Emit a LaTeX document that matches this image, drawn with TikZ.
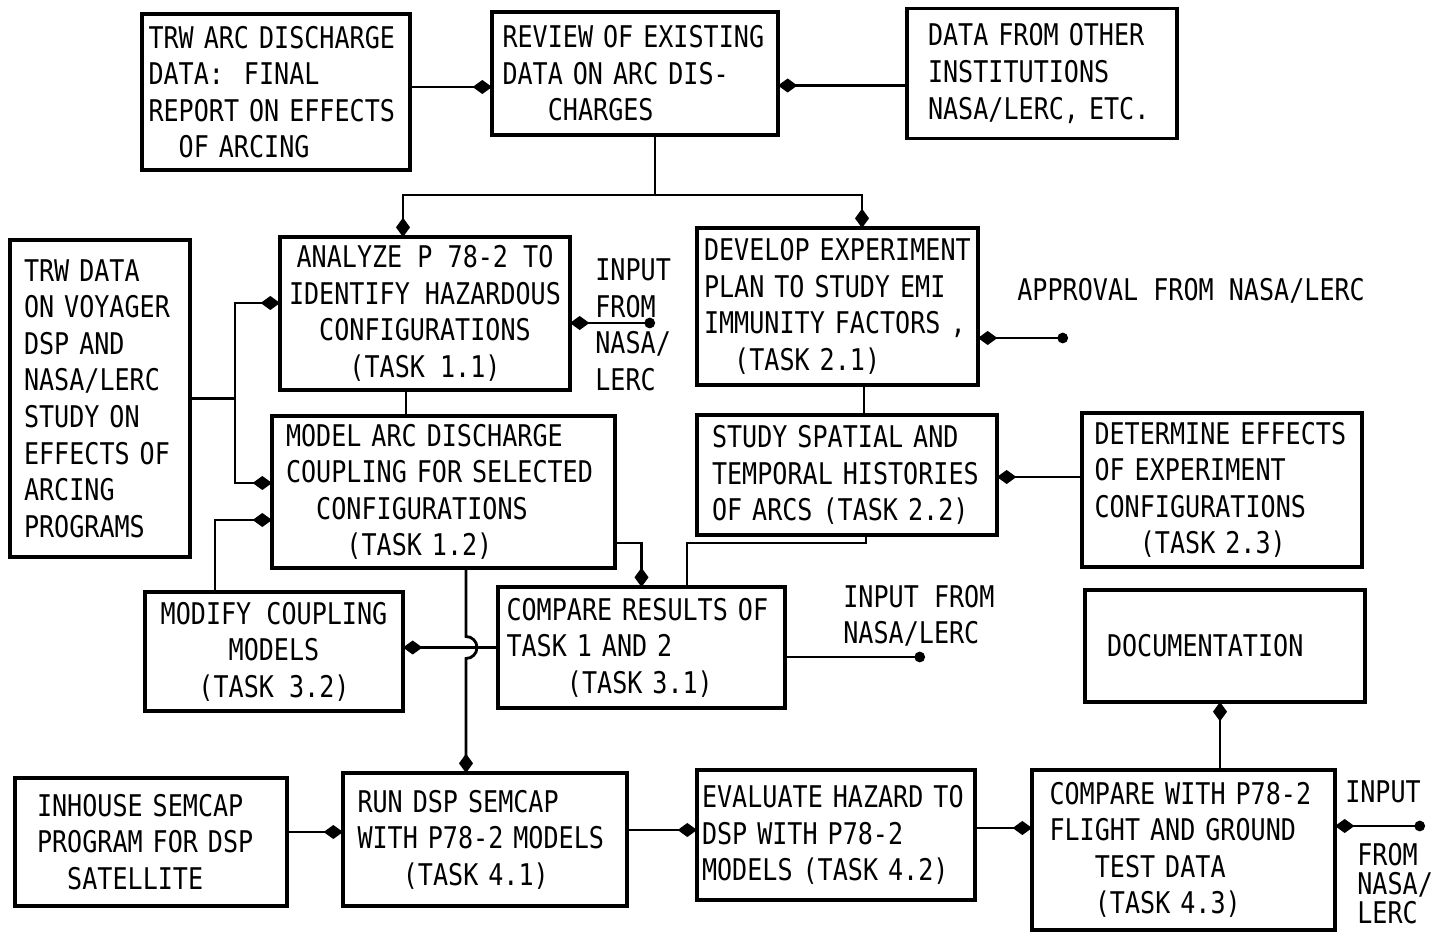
\documentclass[tikz,border=0pt]{standalone}
\usepackage{fontspec}
\setmainfont{DejaVu Sans Mono}[FakeStretch=0.84]
\usepackage{tikz}
\usetikzlibrary{positioning, calc, arrows.meta}

\begin{document}
\begin{tikzpicture}[
  font=\fontsize{17pt}{20.8pt}\selectfont,
  task/.style={draw, line width=2.2pt, inner sep=2pt, outer sep=0pt, align=left},
  link/.style={line width=1.6pt},
  feed/.style={link, -{Diamond[length=11pt, width=8pt]}},
  ext/.style={link, {Circle[length=6pt]}-{Diamond[length=11pt, width=8pt]}},
  note/.style={inner sep=0pt, align=left}
]

\useasboundingbox (0,0) rectangle (28.70,-18.68);

\node[task, minimum width=5.72cm, minimum height=2.46cm, text width=5.30cm] (review) at (12.70,-1.47) {REVIEW OF EXISTING\\DATA ON ARC DIS-\\\phantom{XXX}CHARGES};

\node[task, minimum width=5.36cm, minimum height=3.12cm, text width=5.10cm, left=1.64cm of review, yshift=-0.37cm] (trw) {TRW ARC DISCHARGE\\DATA:\ \ FINAL\\REPORT ON EFFECTS\\\phantom{XX}OF ARCING};

\node[task, minimum width=5.40cm, minimum height=2.60cm, text width=4.56cm, right=2.58cm of review] (other) {DATA FROM OTHER\\INSTITUTIONS\\NASA/LERC, ETC.};

\node[task, minimum width=3.60cm, minimum height=6.34cm, text width=3.04cm] (voyager) at (2.00,-7.97) {TRW DATA\\ON VOYAGER\\DSP AND\\NASA/LERC\\STUDY ON\\EFFECTS OF\\ARCING\\PROGRAMS};

\node[task, align=center, minimum width=5.80cm, minimum height=3.06cm] (analyze) at (8.50,-6.27) {ANALYZE P 78-2 TO\\IDENTIFY HAZARDOUS\\CONFIGURATIONS\\(TASK 1.1)};

\node[task, minimum width=5.62cm, minimum height=3.14cm, text width=5.34cm] (develop) at (16.75,-6.13) {DEVELOP EXPERIMENT\\PLAN TO STUDY EMI\\IMMUNITY FACTORS ,\\\phantom{XX}(TASK 2.1)};

\node[task, minimum width=6.86cm, minimum height=3.04cm, text width=6.30cm, below=0.52cm of analyze, xshift=0.37cm] (model) {MODEL ARC DISCHARGE\\COUPLING FOR SELECTED\\\phantom{XX}CONFIGURATIONS\\\phantom{XXXX}(TASK 1.2)};

\node[task, minimum width=6.00cm, minimum height=2.40cm, text width=5.40cm, below=0.60cm of develop, xshift=0.19cm] (study) {STUDY SPATIAL AND\\TEMPORAL HISTORIES\\OF ARCS (TASK 2.2)};

\node[task, minimum width=5.60cm, minimum height=3.08cm, text width=5.10cm, right=1.70cm of study, yshift=-0.30cm] (effects) {DETERMINE EFFECTS\\OF EXPERIMENT\\CONFIGURATIONS\\\phantom{XXX}(TASK 2.3)};

\node[task, minimum width=5.74cm, minimum height=2.42cm, text width=5.40cm] (results) at (12.83,-12.95) {COMPARE RESULTS OF\\TASK 1 AND 2\\\phantom{XXXX}(TASK 3.1)};

\node[task, align=center, minimum width=5.16cm, minimum height=2.38cm, left=1.90cm of results, yshift=-0.08cm] (modify) {MODIFY COUPLING\\MODELS\\(TASK 3.2)};

\node[task, minimum width=5.60cm, minimum height=2.24cm, text width=4.72cm, below=0.46cm of effects, xshift=0.06cm] (docs) {DOCUMENTATION};

\node[task, minimum width=5.68cm, minimum height=2.66cm, text width=5.10cm] (run) at (9.70,-16.79) {RUN DSP SEMCAP\\WITH P78-2 MODELS\\\phantom{XXX}(TASK 4.1)};

\node[task, minimum width=5.44cm, minimum height=2.56cm, text width=4.56cm, left=1.12cm of run, yshift=-0.05cm] (inhouse) {INHOUSE SEMCAP\\PROGRAM FOR DSP\\\phantom{XX}SATELLITE};

\node[task, minimum width=5.56cm, minimum height=2.60cm, text width=5.36cm, right=1.40cm of run, yshift=0.09cm] (hazard) {EVALUATE HAZARD TO\\DSP WITH P78-2\\MODELS (TASK 4.2)};

\node[task, minimum width=6.06cm, minimum height=3.20cm, text width=5.36cm, right=1.14cm of hazard, yshift=-0.30cm] (flight) {COMPARE WITH P78-2\\FLIGHT AND GROUND\\\phantom{XXX}TEST DATA\\\phantom{XXX}(TASK 4.3)};

\node[note, anchor=west] (inputA) at (11.90,-6.50) {INPUT\\FROM\\NASA/\\LERC};
\node[note, anchor=west] (approval) at (20.34,-5.82) {APPROVAL FROM NASA/LERC};
\node[note, anchor=west] (inputB) at (16.86,-12.32) {INPUT FROM\\NASA/LERC};
\node[note] (inputC) at (27.66,-15.84) {INPUT};
\node[note, anchor=west, font=\fontsize{17pt}{16.5pt}\selectfont] (inputD) at (27.14,-17.68) {FROM\\NASA/\\LERC};

\coordinate (srcA) at (13.10,-6.46);
\coordinate (srcB) at (21.36,-6.76);
\coordinate (srcC) at (18.50,-13.14);
\coordinate (srcD) at (28.50,-16.52);

\draw[feed] ([yshift=0.10cm]trw.east) -- ([yshift=0.10cm]trw.east -| review.west);
\draw[feed] ([yshift=-0.24cm]other.west) -- ([yshift=-0.24cm]other.west -| review.east);

\coordinate (fork) at ($(review.south)+(0.40,-1.20)$);
\draw[link] ([xshift=0.40cm]review.south) -- (fork);
\draw[feed] (fork) -| ([xshift=-0.44cm]analyze.north);
\draw[feed] (fork) -| ([xshift=0.49cm]develop.north);

\coordinate (vbus) at ($(voyager.east)+(0.90,0)$);
\draw[link] (voyager.east) -- (vbus);
\draw[feed] (vbus) |- ([yshift=0.21cm]analyze.west);
\draw[feed] (vbus) |- ([yshift=0.18cm]model.west);

\draw[link] ([xshift=-0.38cm]analyze.south) -- ([xshift=-0.38cm]analyze.south |- model.north);
\draw[feed] ([xshift=-1.18cm]modify.north) |- ([yshift=-0.56cm]model.west);
\draw[feed] ([yshift=-1.02cm]model.east) -| (results.north);

\draw[link] ([xshift=0.53cm]develop.south) -- ([xshift=0.53cm]develop.south |- study.north);
\draw[link] ([xshift=0.38cm]study.south) -- ++(0,-0.16) -| ([xshift=0.91cm]results.north);
\draw[feed] ([yshift=0.26cm]effects.west) -- ([yshift=0.26cm]effects.west -| study.east);

\draw[feed] (results.west) -- (results.west -| modify.east);

\coordinate (hop) at ([xshift=0.45cm]model.south |- results.west);
\draw[feed] ([xshift=0.45cm]model.south) -- ([yshift=0.22cm]hop) arc[start angle=90, end angle=-90, radius=0.22cm] -- (hop |- run.north);

\draw[feed] ([yshift=0.20cm]inhouse.east) -- ([yshift=0.20cm]inhouse.east -| run.west);
\draw[feed] ([yshift=0.19cm]run.east) -- ([yshift=0.19cm]run.east -| hazard.west);
\draw[feed] ([yshift=0.14cm]hazard.east) -- ([yshift=0.14cm]hazard.east -| flight.west);
\draw[feed] ([xshift=0.73cm]flight.north) -- ([xshift=0.73cm]flight.north |- docs.south);

\draw[ext] (srcA) -- (srcA -| analyze.east);
\draw[ext] (srcB) -- (srcB -| develop.east);
\draw[link, {Circle[length=6pt]}-] (srcC) -- (srcC -| results.east);
\draw[ext] (srcD) -- (srcD -| flight.east);

\end{tikzpicture}
\end{document}
